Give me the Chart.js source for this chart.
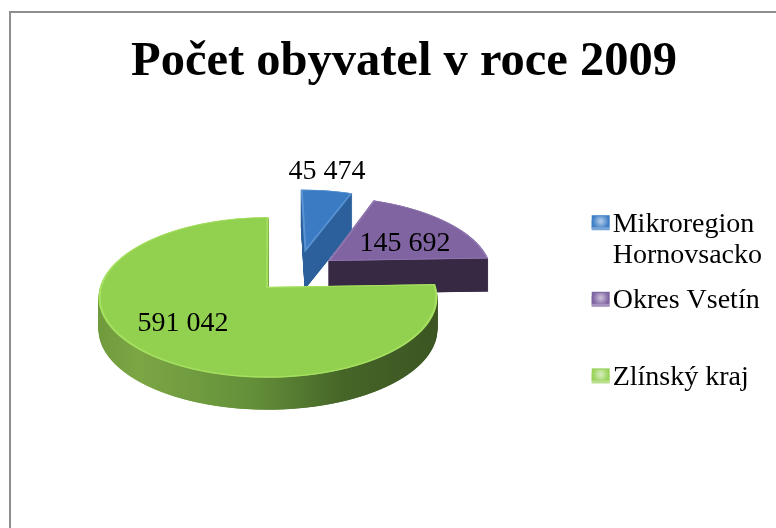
<!DOCTYPE html>
<html lang="cs">

<head>
    <meta charset="UTF-8">
    <title>Počet obyvatel v roce 2009</title>
    <script src="https://cdn.jsdelivr.net/npm/chart.js"></script>
    <style>
        html, body { margin: 0; padding: 0; background: #fff; overflow: hidden; }
        #wrap { position: relative; width: 776px; height: 528px; overflow: hidden; }
        #frame { position: absolute; left: 9px; top: 11px; width: 800px; height: 600px; border: 2px solid #8e8e8e; }
        canvas { position: absolute; left: 0; top: 0; }
    </style>
</head>

<body>
    <div id="wrap">
        <div id="frame"></div>
        <canvas id="pieChart" width="776" height="528"></canvas>
    </div>

    <script>
const chartTitle = 'Počet obyvatel v roce 2009';
const categories = ['Mikroregion Hornovsacko', 'Okres Vsetín', 'Zlínský kraj'];
const population = [45474, 145692, 591042];
const legendLines = [['Mikroregion', 'Hornovsacko'], ['Okres Vsetín', ''], ['Zlínský kraj']];
const topColors = ['#3a7bc4', '#8064a2', '#92d050'];
const rimColors = ['#5a93d2', '#8f76ae', '#a6e060'];
const legendColors = ['#3f7fc6', '#7f64a2', '#9ad35a'];

// slice explosion, in pie units (x to the right, y towards the viewer)
const sliceShift = [[37, -79], [61, -58], [-2, 0]];
const wallHeights = [37, 33, 32];
const labelSpots = [[327, 172], [405, 244], [183, 324]];

// the pie seen in perspective: apex of the green slice, radius, flattening, tilt
const apexX = 270, apexY = 287, pieR = 168, flat = 0.47, tilt = 0.13;

function wallGradient(ctx, index) {
    if (index === 2) {
        let g = ctx.createLinearGradient(97, 0, 437, 0);
        g.addColorStop(0, '#6f9a3c');
        g.addColorStop(0.12, '#7ca644');
        g.addColorStop(0.45, '#64903a');
        g.addColorStop(0.72, '#466628');
        g.addColorStop(1, '#3c5522');
        return g;
    }
    return index === 0 ? '#2b609c' : '#372844';
}

function toDepth(dy) {
    return dy / (flat + tilt * dy / pieR);
}

// draw one arc of the chart through thin strips, each with its own scale
function drawProjected(ctx, arc, shift) {
    const f = pieR / arc.outerRadius;
    for (let y = 150; y < 420; y++) {
        const v0 = toDepth(y - apexY), v1 = toDepth(y + 1 - apexY);
        const w = 1 / (1 - tilt * ((v0 + v1) / 2) / pieR);
        const dv = v1 - v0;
        ctx.save();
        ctx.beginPath();
        ctx.rect(0, y, ctx.canvas.width, 1);
        ctx.clip();
        ctx.setTransform(f * w, 0, 0, f / dv,
            apexX + (shift[0] - arc.x * f) * w,
            y + (shift[1] - arc.y * f - v0) / dv);
        arc.draw(ctx);
        ctx.restore();
    }
}

function layer(w, h) {
    const c = document.createElement('canvas');
    c.width = w;
    c.height = h;
    return c;
}

const pie3d = {
    id: 'pie3d',
    beforeDatasetsDraw(chart) {
        const ctx = chart.ctx;
        const arcs = chart.getDatasetMeta(0).data;
        const W = chart.width, H = chart.height;

        arcs.forEach(function(arc, i) {
            const top = layer(W, H);
            drawProjected(top.getContext('2d'), arc, sliceShift[i]);

            // side wall: the top face stacked downwards, then recoloured
            const wall = layer(W, H);
            const wctx = wall.getContext('2d');
            for (let h = wallHeights[i]; h > 0; h--) {
                wctx.drawImage(top, 0, h);
            }
            wctx.globalCompositeOperation = 'source-in';
            wctx.fillStyle = wallGradient(wctx, i);
            wctx.fillRect(0, 0, W, H);

            ctx.drawImage(wall, 0, 0);
            ctx.drawImage(top, 0, 0);
        });

        ctx.save();
        ctx.fillStyle = '#000';
        ctx.font = '28px "Liberation Serif"';
        ctx.textAlign = 'center';
        ctx.textBaseline = 'middle';
        population.forEach(function(val, i) {
            const txt = String(val).replace(/\B(?=(\d{3})+$)/g, ' ');
            ctx.fillText(txt, labelSpots[i][0], labelSpots[i][1]);
        });
        ctx.restore();
        return false;
    },
    afterDraw(chart) {
        // legend keys sit closer to the text than the legend allows, so paint them here
        const ctx = chart.ctx;
        ctx.save();
        chart.legend.legendHitBoxes.forEach(function(box, i) {
            const bx = box.left, by = box.top + 5;
            ctx.fillStyle = legendColors[i];
            ctx.fillRect(bx, by, 18, 15);
            ctx.fillStyle = 'rgba(255,255,255,0.3)';
            ctx.fillRect(bx, by + 12, 18, 3);
            const g = ctx.createRadialGradient(bx + 9, by + 6, 1, bx + 9, by + 6, 8);
            g.addColorStop(0, 'rgba(255,255,255,0.55)');
            g.addColorStop(1, 'rgba(255,255,255,0)');
            ctx.fillStyle = g;
            ctx.fillRect(bx + 1, by + 1, 16, 11);
        });
        ctx.restore();
    }
};

new Chart(document.getElementById('pieChart').getContext('2d'), {
    type: 'pie',
    data: {
        labels: categories,
        datasets: [{
            data: population,
            backgroundColor: topColors,
            borderColor: rimColors,
            borderWidth: 2,
            borderAlign: 'inner'
        }]
    },
    plugins: [pie3d],
    options: {
        responsive: false,
        animation: false,
        layout: { padding: { left: 36, right: 4, top: 0, bottom: 0 } },
        plugins: {
            tooltip: { enabled: false },
            title: {
                display: true,
                text: chartTitle,
                color: '#000',
                font: { family: '"Liberation Serif"', size: 48.5, weight: 'bold', lineHeight: 1.2 },
                padding: { top: 33, bottom: 90 }
            },
            legend: {
                display: true,
                position: 'right',
                align: 'start',
                title: {
                    display: true,
                    text: '',
                    font: { size: 10, lineHeight: 1 },
                    padding: { top: 186.9, bottom: 0 }
                },
                labels: {
                    boxWidth: 7,
                    boxHeight: 9,
                    padding: 13.3,
                    color: '#000',
                    font: { family: '"Liberation Serif"', size: 28, lineHeight: 1.13 },
                    generateLabels() {
                        return categories.map(function(name, i) {
                            return {
                                text: legendLines[i],
                                fillStyle: legendColors[i],
                                strokeStyle: legendColors[i],
                                fontColor: '#000',
                                lineWidth: 0,
                                index: i
                            };
                        });
                    }
                }
            }
        }
    }
});
    </script>
</body>

</html>
